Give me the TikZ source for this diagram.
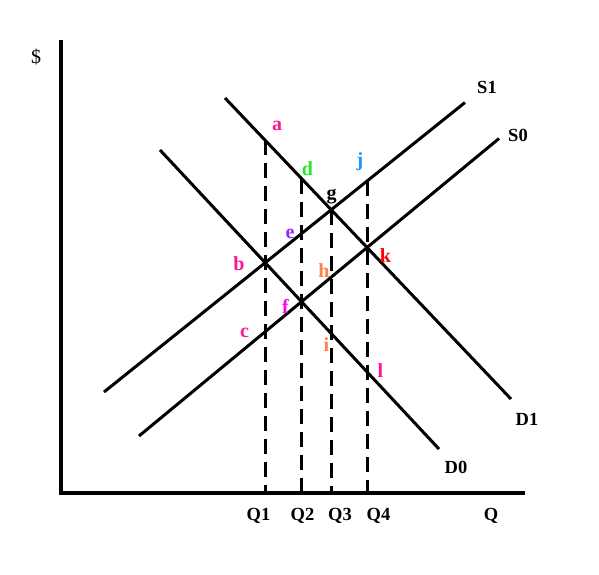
\documentclass[tikz,border=0pt]{standalone}
\usepackage{fontspec}
\setmainfont{Liberation Serif}
\usetikzlibrary{intersections}
\definecolor{cpink}{RGB}{255,20,147}
\definecolor{cgreen}{RGB}{40,230,40}
\definecolor{cblue}{RGB}{30,144,255}
\definecolor{cviolet}{RGB}{150,40,255}
\definecolor{corange}{RGB}{255,130,70}
\definecolor{cred}{RGB}{255,0,0}
\definecolor{cmag}{RGB}{255,0,255}
\tikzset{
  curve/.style={line width=3pt},
  axisline/.style={line width=3.2pt},
  qline/.style={line width=3pt, dash pattern=on 15pt off 8pt},
  lab/.style={font=\bfseries\fontsize{20}{22}\selectfont, inner sep=0pt, anchor=base},
  axlab/.style={font=\bfseries\fontsize{18.5}{21}\selectfont, inner sep=0pt, anchor=base}
}
\begin{document}
\begin{tikzpicture}[x=1pt,y=-1pt]
\useasboundingbox (0,0) rectangle (599,574);
% axes
\coordinate (origin) at (61,493);
\coordinate (ytop) at (61,40);
\coordinate (xend) at (525,493);
\draw[axisline] (ytop) -- (origin) -- (xend);
% curve end points
\coordinate (D1a) at (225,98);
\coordinate (D1b) at (511,399);
\coordinate (D0a) at (160,150);
\coordinate (D0b) at (439,449);
\coordinate (S1a) at (104,392);
\coordinate (S1b) at (465,102.5);
\coordinate (S0a) at (139,436);
\coordinate (S0b) at (499,138.5);
\draw[curve, name path=D1] (D1a) -- (D1b);
\draw[curve, name path=D0] (D0a) -- (D0b);
\draw[curve, name path=S1] (S1a) -- (S1b);
\draw[curve, name path=S0] (S0a) -- (S0b);
% equilibrium points
\path[name intersections={of=D0 and S1, by=pb}];
\path[name intersections={of=D1 and S1, by=pg}];
\path[name intersections={of=D0 and S0, by=pf}];
\path[name intersections={of=D1 and S0, by=pk}];
% vertical guides
\path[name path=v1] (pb) ++(0,-200) -- ++(0,400);
\path[name path=v2] (pf) ++(0,-250) -- ++(0,400);
\path[name path=v4] (pk) ++(0,-200) -- ++(0,400);
\path[name intersections={of=v1 and D1, by=pa}];
\path[name intersections={of=v2 and D1, by=pd}];
\path[name intersections={of=v4 and S1, by=pj}];
\coordinate (q1) at (pb |- origin);
\coordinate (q2) at (pf |- origin);
\coordinate (q3) at (pg |- origin);
\coordinate (q4) at (pk |- origin);
\draw[qline] (pa) -- (q1);
\draw[qline] (pd) -- (q2);
\draw[qline] (pg) -- (q3);
\draw[qline] (pj) -- (q4);
% point labels
\node[lab, text=cpink] (la) at (277,130) {a};
\node[lab, text=cgreen] (ld) at (307.5,175) {d};
\node[lab, text=cblue] (lj) at (360,166) {j};
\node[lab] (lg) at (331.5,199) {g};
\node[lab, text=cviolet] (le) at (290,238.5) {e};
\node[lab, text=cpink] (lb) at (239,270) {b};
\node[lab, text=corange] (lh) at (324,277) {h};
\node[lab, text=cred] (lk) at (385.5,262) {k};
\node[lab, text=cmag] (lf) at (285.5,313) {f};
\node[lab, text=cpink] (lc) at (244.5,337) {c};
\node[lab, text=corange] (li) at (326.5,351) {i};
\node[lab, text=cpink] (ll) at (380.5,377) {l};
% curve labels
\node[axlab] (tS1) at (487,93.5) {S1};
\node[axlab] (tS0) at (518,141.5) {S0};
\node[axlab] (tD1) at (527,425) {D1};
\node[axlab] (tD0) at (456,473) {D0};
% axis labels
\node[axlab] (tQ1) at (258.5,520) {Q1};
\node[axlab] (tQ2) at (302.5,520) {Q2};
\node[axlab] (tQ3) at (340,520) {Q3};
\node[axlab] (tQ4) at (378.5,520) {Q4};
\node[axlab] (tQ) at (491,520) {Q};
\node[font=\fontsize{20}{22}\selectfont, inner sep=0pt, anchor=base] (tdol) at (36,63) {\$};
\end{tikzpicture}
\end{document}
